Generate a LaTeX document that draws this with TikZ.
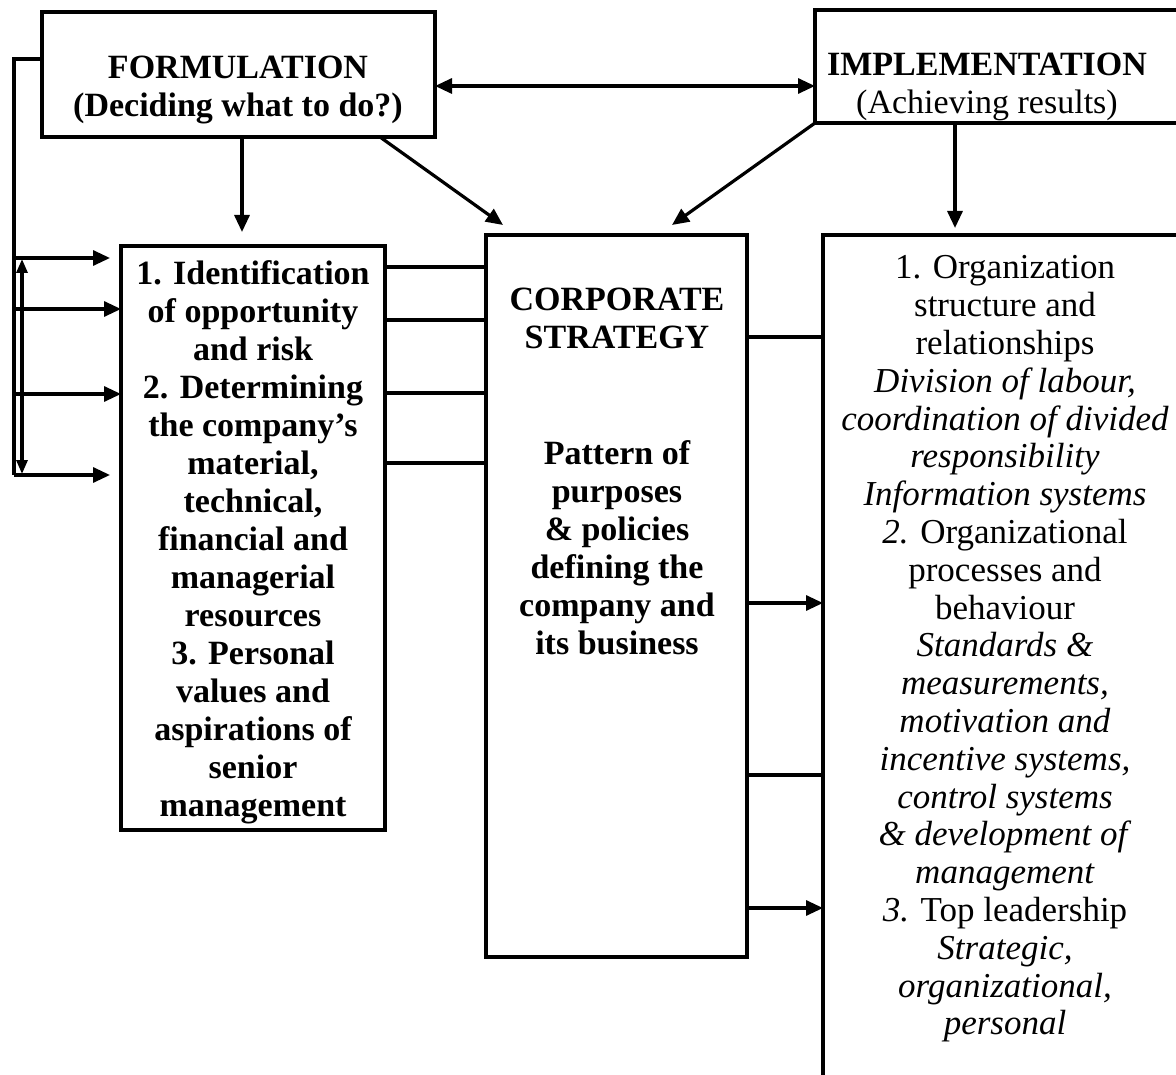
\documentclass[tikz,border=0pt]{standalone}
\usepackage{fontspec}
\setmainfont{Liberation Serif}
\usetikzlibrary{arrows.meta}
\tikzset{
  box/.style={draw, line width=3.6pt, inner sep=0pt, outer sep=0pt},
  txt/.style={align=center, inner sep=0pt, font=\fontsize{34}{38}\selectfont},
  link/.style={line width=3.2pt},
  flow/.style={line width=3.2pt, -{Triangle[length=17pt,width=15pt]}},
  both/.style={line width=3.2pt, {Triangle[length=17pt,width=15pt]}-{Triangle[length=17pt,width=15pt]}},
  thinboth/.style={line width=3.2pt, {Triangle[length=14pt,width=11pt]}-{Triangle[length=14pt,width=11pt]}},
}
\begin{document}
\begin{tikzpicture}[x=1pt,y=-1pt]
\useasboundingbox (0,0) rectangle (1176,1075);
\clip (0,0) rectangle (1176,1075);

% boxes
\node[box, minimum width=393pt, minimum height=125pt] (form) at (238.5,74.5) {};
\node[box, minimum width=385pt, minimum height=113pt] (impl) at (1007.5,66.5) {};
\node[box, minimum width=264pt, minimum height=584pt] (ident) at (253,538) {};
\node[box, minimum width=261pt, minimum height=722pt] (strat) at (616.5,596) {};
\node[box, minimum width=367pt, minimum height=875pt] (org) at (1006.5,672.5) {};

% texts
\node[txt, font=\fontsize{34}{38}\selectfont\bfseries] (formtxt) at (238,90)
  {FORMULATION\\(Deciding what to do?)};
\node[txt] (impltxt) at (987,87)
  {\textbf{IMPLEMENTATION}\\(Achieving results)};
\node[txt, font=\fontsize{34}{38}\selectfont\bfseries] (identtxt) at (253,542)
  {1. Identification\\of opportunity\\and risk\\2. Determining\\the company’s\\material,\\technical,\\financial and\\managerial\\resources\\3. Personal\\values and\\aspirations of\\senior\\management};
\node[txt, font=\fontsize{34}{38}\selectfont\bfseries] (strattitle) at (617,318)
  {CORPORATE\\STRATEGY};
\node[txt, font=\fontsize{34}{38}\selectfont\bfseries] (stratbody) at (617,548)
  {Pattern of\\purposes\\\& policies\\defining the\\company and\\its business};
\node[txt, font=\fontsize{35}{37.8}\selectfont] (orgtxt) at (1005,649)
  {1. Organization\\structure and\\relationships\\
   \textit{Division of labour,}\\\textit{coordination of divided}\\\textit{responsibility}\\\textit{Information systems}\\
   \textit{2.} Organizational\\processes and\\behaviour\\
   \textit{Standards \&}\\\textit{measurements,}\\\textit{motivation and}\\\textit{incentive systems,}\\\textit{control systems}\\\textit{\& development of}\\\textit{management}\\
   \textit{3.} Top leadership\\\textit{Strategic,}\\\textit{organizational,}\\\textit{personal}};

% formulation <-> implementation
\coordinate (fe) at ([yshift=-11.5pt]form.east);
\draw[both] (fe) -- (fe -| impl.west);

% downward flows
\draw[flow, shorten >=14pt] ([xshift=3.5pt]form.south) -- ([xshift=3.5pt]form.south |- ident.north);
\draw[flow, shorten >=7pt] ([xshift=-52.5pt]impl.south) -- ([xshift=-52.5pt]impl.south |- org.north);
\draw[flow] ([xshift=141.5pt]form.south) -- ([xshift=-113.5pt,yshift=10pt]strat.north);
\draw[flow] (impl.south west) -- ([xshift=55.5pt,yshift=10pt]strat.north);

% feedback loop on the left
\coordinate (fbtop) at ([yshift=-47pt]form.north west);
\coordinate (fbcorner) at (14,59);
\coordinate (fbend) at (14,475);
\draw[link] (fbtop) -- (fbcorner) -- (fbend);
\foreach \yy/\ss in {258/11, 309/0, 394/0, 475/11} {
  \coordinate (fbrow) at (14,\yy);
  \draw[flow, shorten >=\ss pt] (fbrow) -- (fbrow -| ident.west);
}
\coordinate (dbtop) at (22,259);
\coordinate (dbbot) at (22,474);
\draw[thinboth] (dbtop) -- (dbbot);

% links from the formulation items to the strategy
\foreach \dy in {21, 74, 147, 217} {
  \coordinate (ln) at ([yshift=-\dy pt]ident.north east);
  \draw[link] (ln) -- (ln -| strat.west);
}

% links from the strategy to the implementation items
\foreach \dy/\sty in {102/link, 368/flow, 540/link, 673/flow} {
  \coordinate (rn) at ([yshift=-\dy pt]strat.north east);
  \draw[\sty] (rn) -- (rn -| org.west);
}
\end{tikzpicture}
\end{document}
